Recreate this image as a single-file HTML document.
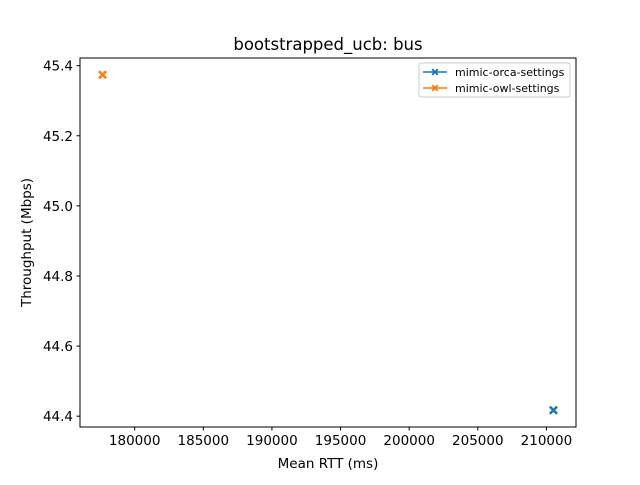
<!DOCTYPE html>
<html><head><meta charset="utf-8"><style>
body{margin:0;background:#fff;font-family:"Liberation Sans","DejaVu Sans",sans-serif;}
svg text{font-family:"DejaVu Sans","Liberation Sans",sans-serif;}
</style></head><body>
<svg id="chart" width="640" height="480" xmlns="http://www.w3.org/2000/svg">
<rect width="640" height="480" fill="#fff"/>
<text x="328" y="50" font-size="16.5" text-anchor="middle">bootstrapped_ucb: bus</text>
<g id="xticks"></g><g id="yticks"></g><g id="marks"></g>
<rect x="80" y="58" width="496" height="369" fill="none" stroke="#000" stroke-width="1"/>
<text x="328" y="468" font-size="13.5" text-anchor="middle">Mean RTT (ms)</text>
<text transform="translate(31,242.5) rotate(-90)" font-size="13.5" text-anchor="middle">Throughput (Mbps)</text>
<g>
<rect x="419" y="63" width="151" height="34" rx="2" fill="#fff" stroke="#ccc"/>
<g id="legend-items"></g>
</g>
</svg>
<script>
const seriesNames=["mimic-orca-settings","mimic-owl-settings"];
const seriesColors=["#1f77b4","#ff7f0e"];
const rttValues=[210512,177658];
const tputValues=[44.417,45.374];
const xTicks=[180000,185000,190000,195000,200000,205000,210000];
const yTicks=[44.4,44.6,44.8,45.0,45.2,45.4];
const L=80,R=576,T=58,B=427;
const xmin0=Math.min(...rttValues),xmax0=Math.max(...rttValues),xr=xmax0-xmin0;
const ymin0=Math.min(...tputValues),ymax0=Math.max(...tputValues),yr=ymax0-ymin0;
const xLo=xmin0-0.05*xr,xHi=xmax0+0.05*xr,yLo=ymin0-0.05*yr,yHi=ymax0+0.05*yr;
const sx=v=>L+(v-xLo)/(xHi-xLo)*(R-L);
const sy=v=>B-(v-yLo)/(yHi-yLo)*(B-T);
const NS="http://www.w3.org/2000/svg";
function mk(tag,attrs,parent){const e=document.createElementNS(NS,tag);for(const k in attrs)e.setAttribute(k,attrs[k]);parent.appendChild(e);return e;}
const xg=document.getElementById('xticks'),yg=document.getElementById('yticks'),mg=document.getElementById('marks');
xTicks.forEach(t=>{const x=sx(t);
 const l=mk('line',{x1:x,x2:x,y1:B,y2:B+3.5,stroke:'#000'},xg);
 
 
 const tx=mk('text',{x:x,y:B+18,'font-size':'13.5','text-anchor':'middle'},xg);tx.textContent=t;
 
 });
yTicks.forEach(t=>{const y=sy(t);
 const l=mk('line',{x1:L-3.5,x2:L,y1:y,y2:y,stroke:'#000'},yg);
 
 
 const tx=mk('text',{x:L-7,y:y+5,'font-size':'13.5','text-anchor':'end'},yg);tx.textContent=t.toFixed(1);
 
 });
function xMarker(cx,cy,s,color,parent){
 const a=s,b=s*0.4;
 const d=`M${cx-a},${cy-a+b}L${cx-a+b},${cy-a}L${cx},${cy-b}L${cx+a-b},${cy-a}L${cx+a},${cy-a+b}L${cx+b},${cy}L${cx+a},${cy+a-b}L${cx+a-b},${cy+a}L${cx},${cy+b}L${cx-a+b},${cy+a}L${cx-a},${cy+a-b}L${cx-b},${cy}Z`;
 return mk('path',{d:d,fill:color},parent);}
rttValues.forEach((v,i)=>{const p=xMarker(sx(v),sy(tputValues[i]),4.5,seriesColors[i],mg);
 
 });
const lg=document.getElementById('legend-items');
seriesNames.forEach((n,i)=>{const y=72+i*16;
 const g=mk('g',{},lg);
 
 
 mk('line',{x1:423,x2:447,y1:y,y2:y,stroke:seriesColors[i],'stroke-width':1.5},g);
 xMarker(435,y,3.5,seriesColors[i],g);
 const t=mk('text',{x:455,y:y+4,'font-size':'11'},g);t.textContent=n;});
</script>
</body></html>
